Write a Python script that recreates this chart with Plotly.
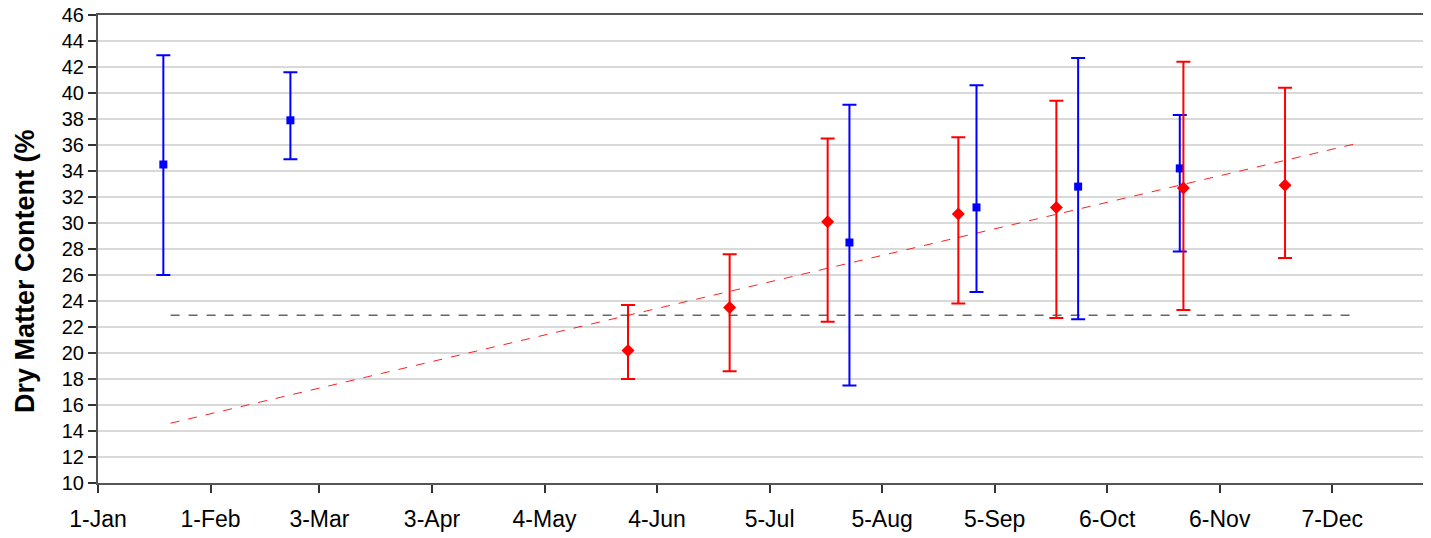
import plotly.graph_objects as go

# Blue series (squares)
blue_dates = ["2007-01-19", "2007-02-23", "2007-07-27", "2007-08-31", "2007-09-28", "2007-10-26"]
blue_vals = [34.5, 37.9, 28.5, 31.2, 32.8, 34.2]
blue_hi = [42.9, 41.6, 39.1, 40.6, 42.7, 38.3]
blue_lo = [26.0, 34.9, 17.5, 24.7, 22.6, 27.8]

# Red series (diamonds)
red_dates = ["2007-05-27", "2007-06-24", "2007-07-21", "2007-08-26", "2007-09-22", "2007-10-27", "2007-11-24"]
red_vals = [20.2, 23.5, 30.1, 30.7, 31.2, 32.7, 32.9]
red_hi = [23.7, 27.6, 36.5, 36.6, 39.4, 42.4, 40.4]
red_lo = [18.0, 18.6, 22.4, 23.8, 22.7, 23.3, 27.3]

# Reference lines
ref_dates = ["2007-01-21", "2007-12-13"]
ref_vals = [22.9, 22.9]
trend_dates = ["2007-01-21", "2007-12-15"]
trend_vals = [14.6, 36.2]

tick_dates = ["2007-01-01", "2007-02-01", "2007-03-03", "2007-04-03", "2007-05-04", "2007-06-04",
              "2007-07-05", "2007-08-05", "2007-09-05", "2007-10-06", "2007-11-06", "2007-12-07"]
tick_labels = ["1-Jan", "1-Feb", "3-Mar", "3-Apr", "4-May", "4-Jun",
               "5-Jul", "5-Aug", "5-Sep", "6-Oct", "6-Nov", "7-Dec"]
y_ticks = list(range(10, 47, 2))

fig = go.Figure()

fig.add_trace(go.Scatter(
    x=ref_dates, y=ref_vals, mode="lines",
    line=dict(color="#666666", width=1.5, dash="dash"), showlegend=False, hoverinfo="skip"))
fig.add_trace(go.Scatter(
    x=trend_dates, y=trend_vals, mode="lines",
    line=dict(color="#ff2020", width=1, dash="dash"), showlegend=False, hoverinfo="skip"))

fig.add_trace(go.Scatter(
    x=blue_dates, y=blue_vals, mode="markers",
    marker=dict(symbol="square", size=8, color="#0000ff"),
    error_y=dict(type="data", symmetric=False,
                 array=[h - v for h, v in zip(blue_hi, blue_vals)],
                 arrayminus=[v - l for l, v in zip(blue_lo, blue_vals)],
                 color="#0000ff", thickness=2, width=7),
    showlegend=False))

fig.add_trace(go.Scatter(
    x=red_dates, y=red_vals, mode="markers",
    marker=dict(symbol="diamond", size=10, color="#ff0000"),
    error_y=dict(type="data", symmetric=False,
                 array=[h - v for h, v in zip(red_hi, red_vals)],
                 arrayminus=[v - l for l, v in zip(red_lo, red_vals)],
                 color="#ff0000", thickness=2, width=7),
    showlegend=False))

fig.add_annotation(
    text="<b>Dry Matter Content (%</b>", xref="paper", yref="paper",
    x=-0.0551, y=0.453, xanchor="center", yanchor="middle",
    textangle=-90, showarrow=False,
    font=dict(family="Liberation Sans, Arial", size=27, color="black"))

fig.update_layout(
    width=1423, height=530,
    margin=dict(l=90, r=8, t=7, b=55, autoexpand=False),
    paper_bgcolor="white", plot_bgcolor="white",
    font=dict(family="Liberation Sans, Arial", size=18, color="black"),
    xaxis=dict(type="date", range=["2007-01-01", "2008-01-01"], automargin=False,
               tickvals=tick_dates, ticktext=tick_labels, tickfont=dict(size=23),
               ticklabeloverflow="allow", ticklabelstandoff=6,
               ticks="outside", ticklen=8, tickwidth=1.5, tickcolor="#333333",
               showgrid=False, zeroline=False,
               showline=True, linecolor="#555555", linewidth=2, mirror=True),
    yaxis=dict(range=[10, 46], tickvals=y_ticks, automargin=False, tickfont=dict(size=20),
               ticklabeloverflow="allow",
               ticks="outside", ticklen=8, tickwidth=1.5, tickcolor="#333333",
               showgrid=True, gridcolor="#d9d9d9", gridwidth=1.5, zeroline=False,
               showline=True, linecolor="#555555", linewidth=2, mirror=True),
)

fig.write_html("out.html")
